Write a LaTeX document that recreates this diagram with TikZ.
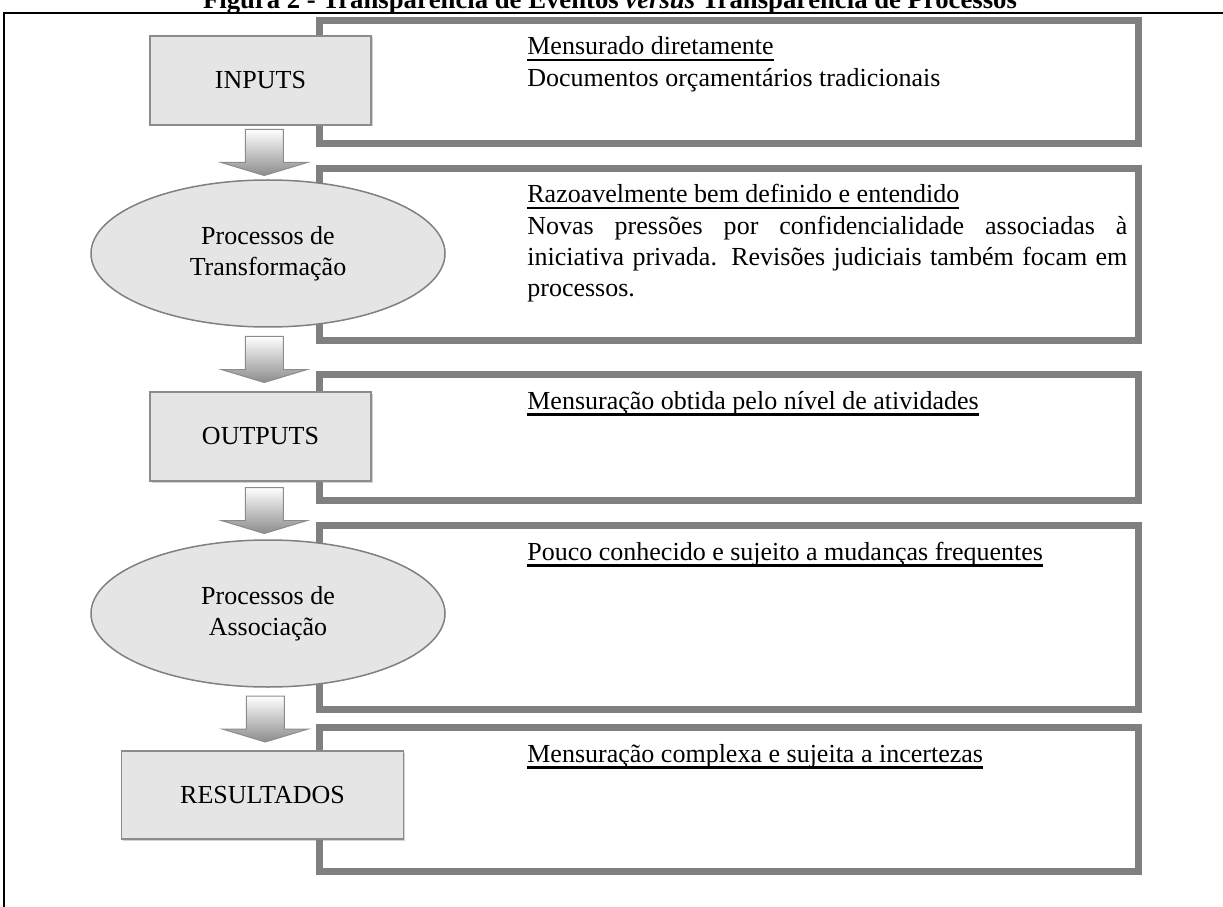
\documentclass[tikz,border=0pt]{standalone}
\usepackage{fontspec}
\setmainfont{Liberation Serif}
\usetikzlibrary{positioning, shapes.geometric, shadows, calc}

\hyphenpenalty=10000

% thick underline for the panel headings
\newcommand{\ulhead}[1]{\setbox0\hbox{#1}\leavevmode\rlap{\raisebox{-3.7pt}{\rule{\wd0}{1.2pt}}}\box0}

% block arrow between two stages
\newcommand{\flowstep}[2]{%
	\path (#1.south) -- (#2.north) coordinate[midway] (#1-#2);
	\shadedraw [flowarrow] ($(#1-#2)+(-0.38,0.46)$) -- ++(0.76,0) -- ++(0,-0.66) -- ++(0.48,0)
	-- ($(#1-#2)+(0,-0.46)$) -- ($(#1-#2)+(-0.86,-0.2)$) -- ++(0.48,0) -- cycle;
}

\begin{document}
\begin{tikzpicture}[node distance=3.5cm, on grid,
	font=\fontsize{14.8}{17.4}\selectfont,
	stage/.style={rectangle, draw=black!45, fill=black!10, line width=0.03cm,
		minimum width=4.42cm, minimum height=1.78cm, inner sep=0pt,
		drop shadow={shadow xshift=0.03cm, shadow yshift=-0.03cm, opacity=0.35}},
	process/.style={ellipse, draw=black!50, fill=black!10, line width=0.03cm,
		minimum width=7.08cm, minimum height=2.94cm, inner sep=0pt, align=center},
	panel/.style={draw=black!50, line width=0.14cm},
	heading/.style={anchor=base west, inner sep=0pt},
	note/.style={anchor=base west, inner sep=0pt, text width=12cm, align=justify},
	flowarrow/.style={draw=black!45, line width=0.02cm, top color=white, bottom color=black!45}]
	
	\useasboundingbox (0,0) rectangle (24.46,-18.14);
	
	\node (title) [anchor=base, font=\bfseries\fontsize{15.2}{17}\selectfont] at (12.2,-0.17)
	{Figura 2 - Transparência de Eventos \textit{versus} Transparência de Processos};
	\draw [line width=0.04cm] (0.08,-18.3) -- (0.08,-0.26) -- (24.6,-0.26);
	
	% right panels
	\draw [panel] (6.39,-0.41) rectangle (22.77,-2.87);
	\draw [panel] (6.39,-3.37) rectangle (22.77,-6.81);
	\draw [panel] (6.39,-7.49) rectangle (22.77,-10.01);
	\draw [panel] (6.39,-10.51) rectangle (22.77,-14.19);
	\draw [panel] (6.39,-14.55) rectangle (22.77,-17.43);
	
	\node (h1) [heading] at (10.54,-1.10) {\ulhead{Mensurado diretamente}};
	\node (d1) [heading] at (10.54,-1.74) {Documentos orçamentários tradicionais};
	\node (h2) [heading] at (10.54,-4.06) {\ulhead{Razoavelmente bem definido e entendido}};
	\node (d2) [note] at (10.54,-4.70) {Novas pressões por confidencialidade associadas à\linebreak
		iniciativa privada. Revisões judiciais também focam em\linebreak processos.};
	\node (h3) [heading] at (10.54,-8.18) {\ulhead{Mensuração obtida pelo nível de atividades}};
	\node (h4) [heading] at (10.54,-11.20) {\ulhead{Pouco conhecido e sujeito a mudanças frequentes}};
	\node (h5) [heading] at (10.54,-15.24) {\ulhead{Mensuração complexa e sujeita a incertezas}};
	
	% left column
	\node (inputs) [stage] at (5.21,-1.61) {INPUTS};
	\node (trans) [process, below=3.46cm of inputs, xshift=0.15cm] {Processos de\\Transformação};
	\node (outputs) [stage, below=3.66cm of trans, xshift=-0.15cm] {OUTPUTS};
	\node (assoc) [process, below=3.54cm of outputs, xshift=0.15cm] {Processos de\\Associação};
	\node (results) [stage, below=3.63cm of assoc, xshift=-0.11cm, minimum width=5.64cm,
		minimum height=1.76cm] {RESULTADOS};
	
	\flowstep{inputs}{trans}
	\flowstep{trans}{outputs}
	\flowstep{outputs}{assoc}
	\flowstep{assoc}{results}
	
\end{tikzpicture}
\end{document}
